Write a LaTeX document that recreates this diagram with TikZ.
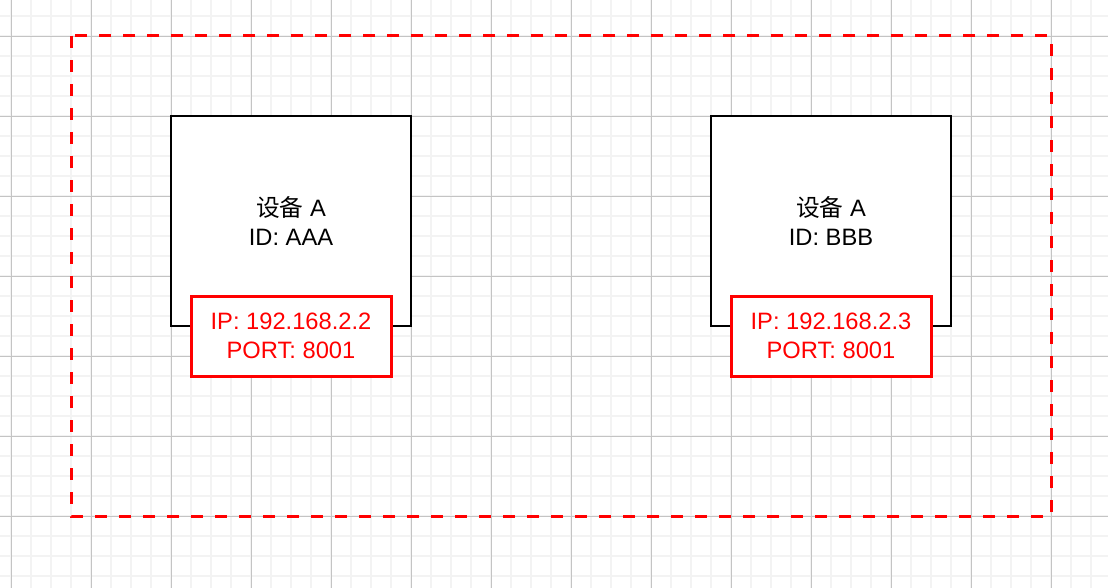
\documentclass[tikz,border=0pt]{standalone}
\usepackage{fontspec}
\setmainfont{Liberation Sans}
\newfontfamily\cjk{Noto Sans CJK SC}
\definecolor{minorgrid}{HTML}{F3F3F3}
\definecolor{majorgrid}{HTML}{C4C4C4}
\definecolor{redline}{HTML}{FF0000}
\begin{document}
\begin{tikzpicture}[x=1pt,y=-1pt,
  device/.style={draw=black,line width=1.6pt,fill=white},
  addr/.style={draw=redline,line width=3pt,fill=white},
  devtext/.style={align=center,font=\fontsize{23.7}{29}\selectfont,text=black},
  addrtext/.style={align=center,font=\fontsize{23.7}{29}\selectfont,text=redline},
  zone/.style={draw=redline,line width=3pt,dash pattern=on 12pt off 12pt}]
\useasboundingbox (0,0) rectangle (1108,588);
\fill[white] (0,0) rectangle (1108,588);
% minor grid
\foreach \x in {-9,11,...,1111} \draw[minorgrid,line width=1.6pt] (\x,0) -- (\x,588);
\foreach \y in {-4,16,...,596} \draw[minorgrid,line width=1.6pt] (0,\y) -- (1108,\y);
% major grid
\foreach \x in {11,91,...,1111} \draw[majorgrid,line width=0.9pt] (\x,0) -- (\x,588);
\foreach \y in {36,116,...,596} \draw[majorgrid,line width=0.9pt] (0,\y) -- (1108,\y);
% dashed zone
\draw[zone] (71,36) rectangle (1051,516);
% device boxes
\draw[device] (171,116) rectangle (411,326);
\draw[device] (711,116) rectangle (951,326);
\node[devtext] (devA) at (291,221) {{\cjk 设备} A\\ID: AAA};
\node[devtext] (devB) at (831,221) {{\cjk 设备} A\\ID: BBB};
% address boxes
\draw[addr] (191,296) rectangle (391,376);
\draw[addr] (731,296) rectangle (931,376);
\node[addrtext] (ipA) at (291,336) {IP: 192.168.2.2\\PORT: 8001};
\node[addrtext] (ipB) at (831,336) {IP: 192.168.2.3\\PORT: 8001};
\end{tikzpicture}
\end{document}
